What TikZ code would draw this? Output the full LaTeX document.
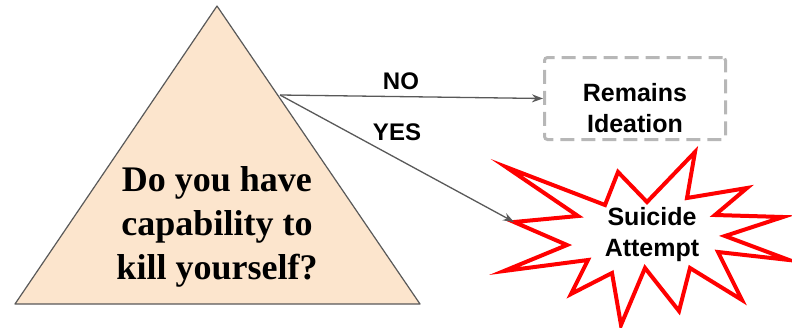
\documentclass[tikz,border=0pt]{standalone}
\usepackage{fontspec}
\setmainfont{Liberation Serif}
\setsansfont{Liberation Sans}
\usetikzlibrary{arrows.meta}
\definecolor{peach}{HTML}{FCE5CD}
\definecolor{edgegray}{HTML}{595959}
\definecolor{boxgray}{HTML}{B7B7B7}
\definecolor{burstred}{HTML}{FF0000}

\begin{document}
\begin{tikzpicture}[x=1pt,y=-1pt,
    answer/.style={font=\sffamily\bfseries\fontsize{24}{28}\selectfont,text=black,inner sep=0pt},
    outcome/.style={font=\sffamily\bfseries\fontsize{25}{31}\selectfont,align=center,inner sep=0pt},
    link/.style={edgegray,line width=1.3pt,-{Stealth[length=11pt,width=8pt]}}]
    \useasboundingbox (0,0) rectangle (792,327);
    % the question
    \coordinate (apex) at (217,6);
    \coordinate (left) at (15,304);
    \coordinate (right) at (420,304);
    \draw[edgegray,line width=1.2pt,fill=peach,line join=round] (apex)--(right)--(left)--cycle;
    \node[font=\bfseries\fontsize{36}{44}\selectfont,align=center,inner sep=0pt] (question) at (217,227) {Do you have\\capability to\\kill yourself?};
    \coordinate (branch) at (280,95);
    % the two outcomes
    \node[draw=boxgray,line width=3pt,dash pattern=on 14pt off 7pt,rounded corners=3pt,
        minimum width=181pt,minimum height=82pt] (ideation) at (635,98.5) {};
    \node[outcome] (ideationtext) at (635,108) {Remains\\Ideation};
    \coordinate (spike) at (514,222);
    \draw[burstred,line width=4pt,fill=white,line join=miter]
        (506,167)--(605,205)--(618,172)--(647,202)--(695,152)--(687,198)
        --(747,188)--(715,215)--(783,217)--(725,236)--(789,260)--(718,252)
        --(742,300)--(690,268)--(679,311)--(645,268)--(621,325)--(612,273)
        --(571,294)--(588,260)--(504,271)--(567,245)--(spike)--(578,216)--cycle;
    \node[outcome] (attempt) at (652,235) {Suicide\\Attempt};
    % answers
    \draw[link] (branch) -- (ideation.west) node[answer,pos=0.46,above=6pt] {NO};
    \draw[link] (branch) -- (spike) node[answer,midway,above=17pt] {YES};
\end{tikzpicture}
\end{document}
